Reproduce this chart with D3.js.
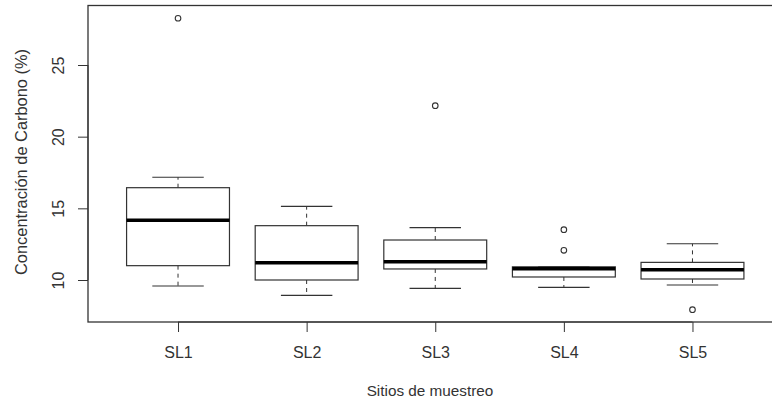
<!DOCTYPE html>
<html>
<head>
<meta charset="utf-8">
<script src="https://cdn.jsdelivr.net/npm/d3@7"></script>
<style>
  body { margin: 0; background: #fff; }
  svg { display: block; font-family: "Liberation Sans", Arial, sans-serif; }
</style>
</head>
<body>
<svg id="chart" width="772" height="402"></svg>
<script>
// boxplot stats
const sites = ["SL1", "SL2", "SL3", "SL4", "SL5"];
const whiskerLow = [9.58, 8.93, 9.42, 9.49, 9.65];
const q1 = [11.0, 10.0, 10.77, 10.21, 10.07];
const medians = [14.17, 11.21, 11.28, 10.79, 10.72];
const q3 = [16.44, 13.79, 12.79, 10.92, 11.23];
const whiskerHigh = [17.17, 15.14, 13.65, 10.92, 12.53];
const outliers = [[28.26], [], [22.16], [13.51, 12.07], [7.93]];
const yTicks = [10, 15, 20, 25];

const margin = { left: 88, top: 5.5, bottom: 322 };
const svg = d3.select("#chart");

const x = d3.scaleLinear().domain([0.3, 5.7]).range([88, 782.5]);
const y = d3.scaleLinear().domain([10, 25]).range([280, 65]);

const boxHalf = (x(1.4) - x(1)) ; // boxwex 0.8
const capHalf = (x(1.2) - x(1));  // staple 0.4
const lineCol = "#333";

const data = sites.map((s, i) => ({
  site: s, i: i + 1,
  lo: whiskerLow[i], q1: q1[i], med: medians[i], q3: q3[i], hi: whiskerHigh[i],
  out: outliers[i]
}));

const g = svg.append("g");
const box = g.selectAll("g.box").data(data).join("g").attr("class", "box");

// whiskers (dashed)
box.append("line")
  .attr("x1", d => x(d.i)).attr("x2", d => x(d.i))
  .attr("y1", d => y(d.q3)).attr("y2", d => y(d.hi))
  .attr("stroke", lineCol).attr("stroke-dasharray", "4,4");
box.append("line")
  .attr("x1", d => x(d.i)).attr("x2", d => x(d.i))
  .attr("y1", d => y(d.q1)).attr("y2", d => y(d.lo))
  .attr("stroke", lineCol).attr("stroke-dasharray", "4,4");

// staples
["hi", "lo"].forEach(k => {
  box.append("line")
    .attr("x1", d => x(d.i) - capHalf).attr("x2", d => x(d.i) + capHalf)
    .attr("y1", d => y(d[k])).attr("y2", d => y(d[k]))
    .attr("stroke", lineCol).attr("stroke-width", 1.2);
});

// box
box.append("rect")
  .attr("x", d => x(d.i) - boxHalf)
  .attr("width", boxHalf * 2)
  .attr("y", d => y(d.q3))
  .attr("height", d => y(d.q1) - y(d.q3))
  .attr("fill", "none").attr("stroke", lineCol).attr("stroke-width", 1.2);

// median
box.append("line")
  .attr("x1", d => x(d.i) - boxHalf).attr("x2", d => x(d.i) + boxHalf)
  .attr("y1", d => y(d.med)).attr("y2", d => y(d.med))
  .attr("stroke", "#000").attr("stroke-width", 3.5);

// outliers
box.selectAll("circle").data(d => d.out.map(v => ({ i: d.i, v })))
  .join("circle")
  .attr("cx", d => x(d.i)).attr("cy", d => y(d.v)).attr("r", 2.8)
  .attr("fill", "none").attr("stroke", lineCol).attr("stroke-width", 1.1);

// frame
svg.append("rect")
  .attr("x", margin.left).attr("y", margin.top)
  .attr("width", x(5.7) - margin.left).attr("height", margin.bottom - margin.top)
  .attr("fill", "none").attr("stroke", lineCol).attr("stroke-width", 1.3);

// y axis
const yAxis = d3.axisLeft(y).tickValues(yTicks).tickSize(10).tickFormat(d3.format("d"));
const ya = svg.append("g").attr("transform", `translate(${margin.left},0)`).call(yAxis);
ya.select(".domain").attr("d", `M0,${y(10)}V${y(25)}`).attr("stroke", lineCol);
ya.selectAll(".tick line").attr("stroke", lineCol);
ya.selectAll(".tick text")
  .attr("x", null).attr("dy", null)
  .attr("transform", "translate(-24,0) rotate(-90)")
  .attr("text-anchor", "middle")
  .attr("font-size", 16).attr("fill", "#333")
  .attr("font-family", "Liberation Sans, Arial, sans-serif");

// x axis
const xAxis = d3.axisBottom(x).tickValues([1, 2, 3, 4, 5]).tickSize(10)
  .tickFormat(d => sites[d - 1]);
const xa = svg.append("g").attr("transform", `translate(0,${margin.bottom})`).call(xAxis);
xa.select(".domain").attr("d", `M${x(1)},0H${x(5)}`).attr("stroke", lineCol);
xa.selectAll(".tick line").attr("stroke", lineCol);
xa.selectAll(".tick text")
  .attr("y", 36).attr("dy", null)
  .attr("font-size", 16).attr("fill", "#333")
  .attr("font-family", "Liberation Sans, Arial, sans-serif");

// axis titles
svg.append("text")
  .attr("x", 430).attr("y", 396)
  .attr("text-anchor", "middle").attr("font-size", 15.3).attr("fill", "#333")
  .text("Sitios de muestreo");
svg.append("text")
  .attr("transform", "translate(27,162) rotate(-90)")
  .attr("text-anchor", "middle").attr("font-size", 16.4).attr("fill", "#333")
  .text("Concentración de Carbono (%)");
</script>
</body>
</html>
